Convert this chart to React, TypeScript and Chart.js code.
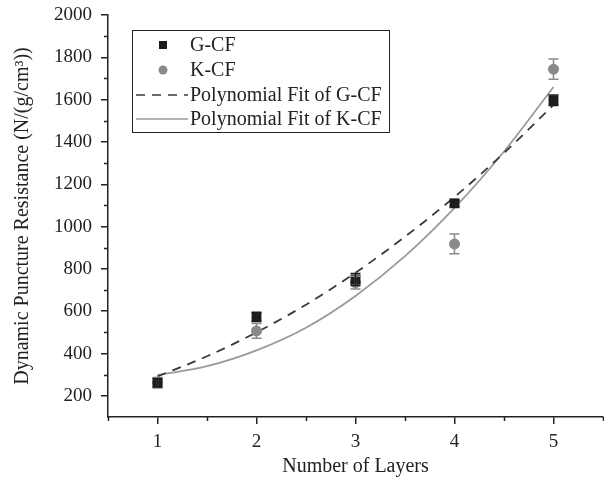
import { useEffect, useRef } from 'react';
import { Chart, registerables } from 'chart.js';
Chart.register(...registerables);

const layers = [1, 2, 3, 4, 5];
const gcf = [262, 573, 750, 1110, 1597];
const gcfErr = [20, 22, 28, 15, 25];
const kcf = [262, 507, 735, 918, 1744];
const kcfErr = [25, 35, 30, 47, 48];
const fitX = [1, 1.5, 2, 2.5, 3, 3.5, 4, 4.5, 5];
const gcfFit = [292, 387, 500, 631, 782, 952, 1140, 1348, 1575];
const kcfFit = [298, 340, 415, 522, 672, 860, 1088, 1355, 1660];
const yMajorTicks = [200, 400, 600, 800, 1000, 1200, 1400, 1600, 1800, 2000];
const yMinorTicks = [300, 500, 700, 900, 1100, 1300, 1500, 1700, 1900];
const xMajorTicks = [1, 2, 3, 4, 5];
const xMinorTicks = [0.5, 1.5, 2.5, 3.5, 4.5, 5.5];
const seriesLabels = ['G-CF', 'K-CF', 'Polynomial Fit of G-CF', 'Polynomial Fit of K-CF'];

const FONT = '"Liberation Serif", "Times New Roman", serif';
const AXIS = '#222';
const G_COLOR = '#1c1c1c';
const K_COLOR = '#8a8a8a';
const GFIT_COLOR = '#3a3a3a';
const KFIT_COLOR = '#9a9a9a';

const extrasPlugin = {
  id: 'extras',
  afterDatasetsDraw(chart: any) {
    const ctx = chart.ctx;
    const xs = chart.scales.x;
    const ys = chart.scales.y;
    const drawErr = (vals: number[], errs: number[], color: string) => {
      ctx.save();
      ctx.strokeStyle = color;
      ctx.lineWidth = 1.5;
      vals.forEach((v, i) => {
        const px = xs.getPixelForValue(layers[i]);
        const top = ys.getPixelForValue(v + errs[i]);
        const bot = ys.getPixelForValue(v - errs[i]);
        ctx.beginPath();
        ctx.moveTo(px, top);
        ctx.lineTo(px, bot);
        ctx.moveTo(px - 5, top);
        ctx.lineTo(px + 5, top);
        ctx.moveTo(px - 5, bot);
        ctx.lineTo(px + 5, bot);
        ctx.stroke();
      });
      ctx.restore();
    };
    drawErr(kcf, kcfErr, K_COLOR);
    drawErr(gcf, gcfErr, G_COLOR);
  },
  afterDraw(chart: any) {
    const ctx = chart.ctx;
    const xs = chart.scales.x;
    const ys = chart.scales.y;
    const area = chart.chartArea;
    ctx.save();
    ctx.strokeStyle = AXIS;
    ctx.lineWidth = 1.5;
    ctx.beginPath();
    yMinorTicks.forEach((v) => {
      const py = Math.round(ys.getPixelForValue(v)) + 0.5;
      ctx.moveTo(area.left, py);
      ctx.lineTo(area.left - 4, py);
    });
    xMinorTicks.forEach((v) => {
      const px = Math.round(xs.getPixelForValue(v)) + 0.5;
      ctx.moveTo(px, area.bottom);
      ctx.lineTo(px, area.bottom + 4);
    });
    ctx.stroke();

    // legend
    const bx = 132.5, by = 30.5, bw = 257, bh = 102;
    ctx.fillStyle = '#fff';
    ctx.fillRect(bx, by, bw, bh);
    ctx.strokeStyle = '#222';
    ctx.lineWidth = 1;
    ctx.strokeRect(bx, by, bw, bh);
    const rows = [45, 70, 95, 119];
    const mx = 163;
    ctx.fillStyle = G_COLOR;
    ctx.fillRect(mx - 4, rows[0] - 4, 8, 8);
    ctx.fillStyle = K_COLOR;
    ctx.beginPath();
    ctx.arc(mx, rows[1], 4.5, 0, Math.PI * 2);
    ctx.fill();
    ctx.strokeStyle = GFIT_COLOR;
    ctx.lineWidth = 1.5;
    ctx.setLineDash([9, 7]);
    ctx.beginPath();
    ctx.moveTo(136, rows[2]);
    ctx.lineTo(188, rows[2]);
    ctx.stroke();
    ctx.setLineDash([]);
    ctx.strokeStyle = KFIT_COLOR;
    ctx.beginPath();
    ctx.moveTo(136, rows[3]);
    ctx.lineTo(188, rows[3]);
    ctx.stroke();
    ctx.fillStyle = '#222';
    ctx.font = '20px ' + FONT;
    ctx.textBaseline = 'middle';
    ctx.textAlign = 'left';
    seriesLabels.forEach((t, i) => ctx.fillText(t, 190, rows[i] + 1));
    ctx.restore();
  },
};

export default function App() {
  const ref = useRef<HTMLCanvasElement | null>(null);
  useEffect(() => {
    if (!ref.current) return;
    const chart = new Chart(ref.current, {
      type: 'scatter',
      data: {
        datasets: [
          {
            label: seriesLabels[0],
            data: layers.map((x, i) => ({ x, y: gcf[i] })),
            pointStyle: 'rect',
            pointRadius: 7,
            backgroundColor: G_COLOR,
            borderColor: G_COLOR,
            borderWidth: 0,
            order: 0,
          },
          {
            label: seriesLabels[1],
            data: layers.map((x, i) => ({ x, y: kcf[i] })),
            pointStyle: 'circle',
            pointRadius: 5.5,
            backgroundColor: K_COLOR,
            borderColor: K_COLOR,
            borderWidth: 0,
            order: 0,
          },
          {
            type: 'line',
            label: seriesLabels[2],
            data: fitX.map((x, i) => ({ x, y: gcfFit[i] })),
            borderColor: GFIT_COLOR,
            borderWidth: 1.8,
            borderDash: [9, 7],
            pointRadius: 0,
            cubicInterpolationMode: 'monotone',
            fill: false,
            order: 1,
          },
          {
            type: 'line',
            label: seriesLabels[3],
            data: fitX.map((x, i) => ({ x, y: kcfFit[i] })),
            borderColor: KFIT_COLOR,
            borderWidth: 1.8,
            pointRadius: 0,
            cubicInterpolationMode: 'monotone',
            fill: false,
            order: 1,
          },
        ] as any,
      },
      options: {
        animation: false,
        responsive: false,
        maintainAspectRatio: false,
        layout: { autoPadding: false, padding: { top: 15, right: 1, left: 0, bottom: 0 } },
        plugins: { legend: { display: false }, tooltip: { enabled: false } },
        scales: {
          x: {
            type: 'linear',
            min: 0.5,
            max: 5.5,
            afterBuildTicks: (s: any) => {
              s.ticks = xMajorTicks.map((v) => ({ value: v }));
            },
            afterFit: (s: any) => {
              s.height = 67;
              s.paddingLeft = 0;
              s.paddingRight = 0;
            },
            border: { display: true, color: AXIS, width: 1.5 },
            grid: { drawOnChartArea: false, drawTicks: true, tickLength: 7, tickColor: AXIS, lineWidth: 1.5 },
            ticks: {
              color: '#222',
              padding: 7,
              font: { family: FONT, size: 19 },
              callback: (v: any) => String(v),
              maxRotation: 0,
            },
            title: {
              display: true,
              text: 'Number of Layers',
              color: '#222',
              font: { family: FONT, size: 20 },
              padding: { top: 0, bottom: 5 },
            },
          },
          y: {
            type: 'linear',
            min: 100,
            max: 2000,
            afterBuildTicks: (s: any) => {
              s.ticks = yMajorTicks.map((v) => ({ value: v }));
            },
            afterFit: (s: any) => {
              s.width = 108;
              s.paddingTop = 0;
              s.paddingBottom = 0;
            },
            border: { display: true, color: AXIS, width: 1.5 },
            grid: { drawOnChartArea: false, drawTicks: true, tickLength: 7, tickColor: AXIS, lineWidth: 1.5 },
            ticks: {
              color: '#222',
              padding: 9,
              font: { family: FONT, size: 19 },
              callback: (v: any) => String(v),
            },
            title: {
              display: true,
              text: 'Dynamic Puncture Resistance (N/(g/cm³))',
              color: '#222',
              font: { family: FONT, size: 20 },
              padding: { top: 11, bottom: 0 },
            },
          },
        },
      },
      plugins: [extrasPlugin],
    });
    return () => chart.destroy();
  }, []);
  return (
    <div style={{ position: 'fixed', left: 0, top: 0, width: 604, height: 484, background: '#fff' }}>
      <canvas ref={ref} width={604} height={484} style={{ width: 604, height: 484, display: 'block' }} />
    </div>
  );
}
